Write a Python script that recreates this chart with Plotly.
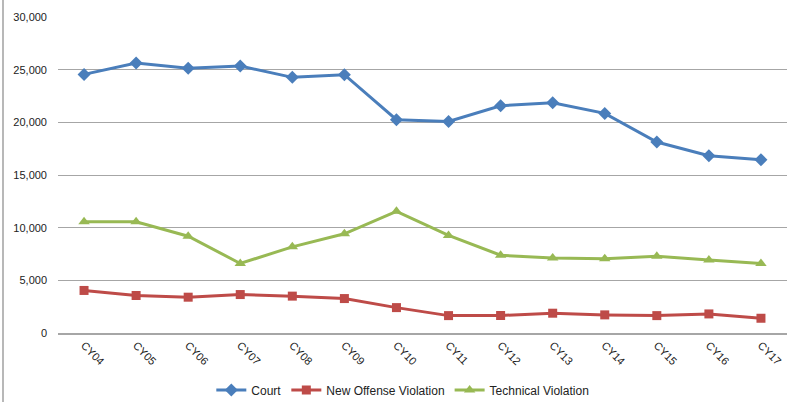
import plotly.graph_objects as go

years = ["CY04", "CY05", "CY06", "CY07", "CY08", "CY09", "CY10",
         "CY11", "CY12", "CY13", "CY14", "CY15", "CY16", "CY17"]
court = [24550, 25640, 25130, 25350, 24270, 24520, 20250,
         20090, 21580, 21860, 20850, 18130, 16830, 16440]
new_offense = [4040, 3560, 3400, 3650, 3500, 3270, 2410,
               1650, 1660, 1880, 1720, 1650, 1810, 1400]
technical = [10560, 10560, 9190, 6600, 8180, 9420, 11550,
             9260, 7380, 7130, 7060, 7280, 6940, 6600]

fig = go.Figure()
fig.add_trace(go.Scatter(x=years, y=court, name="Court", mode="lines+markers",
                         line=dict(color="#4A7EBB", width=3),
                         marker=dict(symbol="diamond", size=10, color="#4A7EBB")))
fig.add_trace(go.Scatter(x=years, y=new_offense, name="New Offense Violation", mode="lines+markers",
                         line=dict(color="#BE4B48", width=3),
                         marker=dict(symbol="square", size=9, color="#BE4B48")))
fig.add_trace(go.Scatter(x=years, y=technical, name="Technical Violation", mode="lines+markers",
                         line=dict(color="#98B954", width=3),
                         marker=dict(symbol="triangle-up", size=10, color="#98B954")))

fig.update_layout(
    width=790, height=402,
    margin=dict(l=58, r=3, t=17, b=69, autoexpand=False),
    plot_bgcolor="white", paper_bgcolor="white",
    font=dict(family="Liberation Sans, Arial, sans-serif", size=11, color="#222222"),
    showlegend=True,
    legend=dict(orientation="h", x=0.473, xanchor="center", y=-0.18, yanchor="middle",
                font=dict(size=12), itemwidth=30, traceorder="normal"),
    xaxis=dict(type="category", tickangle=45, showgrid=False, showline=True,
               linecolor="#A6A6A6", linewidth=1.5, ticks="", zeroline=False,
               range=[-0.5, 13.5], tickfont=dict(size=11), automargin=False),
    yaxis=dict(range=[0, 30000], dtick=5000, tickformat=",d", showgrid=True,
               gridcolor="#A6A6A6", gridwidth=1.2, zeroline=False, showline=False,
               ticks="", ticklabelstandoff=10, tickfont=dict(size=11), automargin=False),
    shapes=[dict(type="line", xref="paper", yref="paper",
                 x0=-55/729, x1=-55/729, y0=-1.2, y1=1.1,
                 line=dict(color="#A0A0A0", width=1.5))]
)

fig.write_html("out.html", config={"displayModeBar": False},
               post_script="document.body.style.margin='0';document.body.style.overflow='hidden';")
